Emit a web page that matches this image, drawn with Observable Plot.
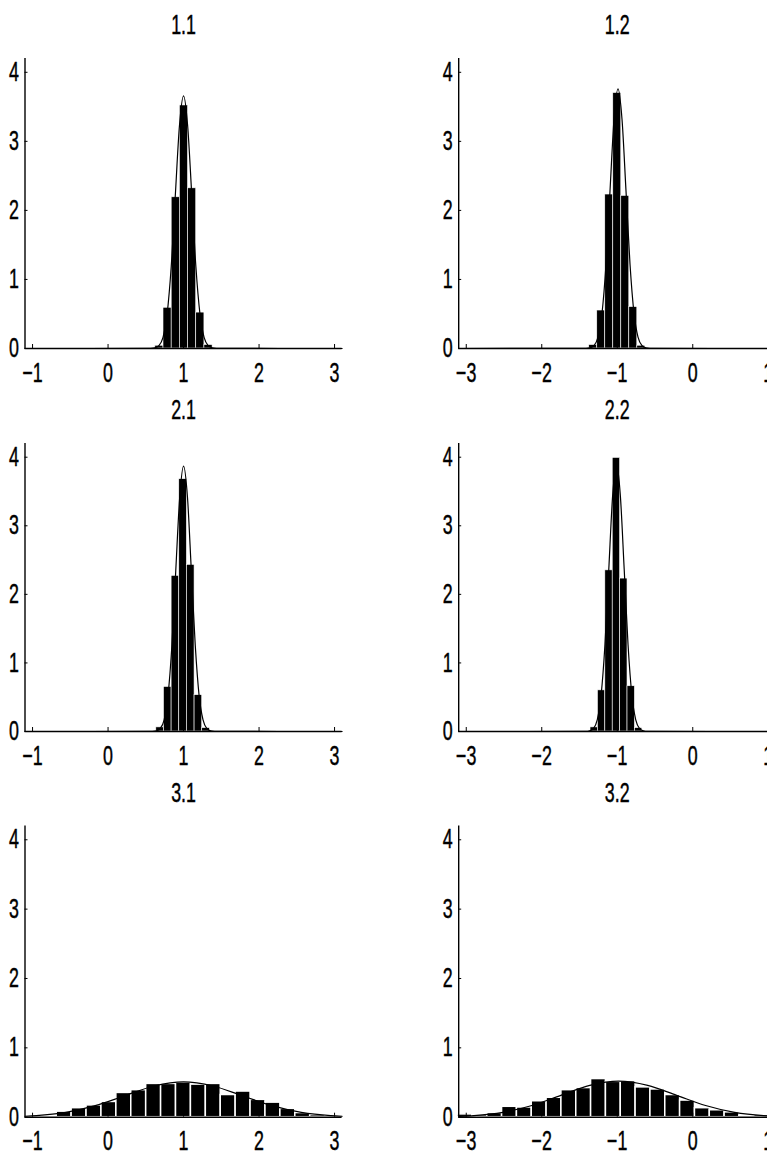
<!DOCTYPE html>
<html><head><meta charset="utf-8">
<script src="https://cdn.jsdelivr.net/npm/d3@7"></script>
<script src="https://cdn.jsdelivr.net/npm/@observablehq/plot@0.6"></script>
<style>
html,body{margin:0;padding:0;background:#fff;overflow:hidden;width:767px;height:1157px;}
#root{position:relative;width:767px;height:1157px;overflow:hidden;}
.panel{position:absolute;}
.panel text{stroke:black;stroke-width:0.45px;}
</style></head><body><div id="root"></div>
<script>
// ---- data ----
const panelTitles = ["1.1", "1.2", "2.1", "2.2", "3.1", "3.2"];
const xDomainLeft = [-1.1, 3.1];
const xDomainRight = [-3.1, 1.1];
const xTicksLeft = [-1, 0, 1, 2, 3];
const xTicksRight = [-3, -2, -1, 0, 1];
const yTicks = [0, 1, 2, 3, 4];
const yDomain = [0, 4.2];

// histogram bins: first edge and bin width per panel
const binStart = [0.626, -1.371, 0.639, -1.354, -1.075, -3.115];
const binWidth = [0.1084, 0.1061, 0.1014, 0.098, 0.1975, 0.1965];

const heights11 = [0.04, 0.59, 2.19, 3.52, 2.32, 0.52, 0.05];
const heights12 = [0.05, 0.55, 2.23, 3.70, 2.21, 0.60, 0.04];
const heights21 = [0.06, 0.65, 2.27, 3.68, 2.43, 0.53, 0.05];
const heights22 = [0.06, 0.60, 2.35, 3.99, 2.23, 0.66, 0.05];
const heights31 = [0.01, 0.02, 0.08, 0.13, 0.17, 0.22, 0.35, 0.39, 0.48, 0.48, 0.50,
                   0.47, 0.48, 0.32, 0.37, 0.25, 0.21, 0.12, 0.06, 0.03, 0.02];
const heights32 = [0.04, 0.03, 0.06, 0.15, 0.14, 0.23, 0.28, 0.39, 0.42, 0.55, 0.51,
                   0.52, 0.43, 0.40, 0.32, 0.24, 0.13, 0.10, 0.07, 0.02, 0.03];

// density curves (x, y)
const curve11 = [[-1.1,0],[0.564,0.001],[0.618,0.008],[0.673,0.041],[0.728,0.161],[0.782,0.495],[0.837,1.19],[0.891,2.22],[0.946,3.23],[1.0,3.66],[1.054,3.23],[1.109,2.22],[1.163,1.19],[1.218,0.495],[1.272,0.161],[1.327,0.041],[1.382,0.008],[1.436,0.001],[3.1,0]];
const curve12 = [[-3.1,0],[-1.414,0.001],[-1.361,0.008],[-1.308,0.042],[-1.255,0.165],[-1.202,0.509],[-1.149,1.22],[-1.096,2.28],[-1.043,3.32],[-0.99,3.76],[-0.937,3.32],[-0.884,2.28],[-0.831,1.22],[-0.778,0.509],[-0.725,0.165],[-0.672,0.042],[-0.619,0.008],[-0.566,0.001],[1.1,0]];
const curve21 = [[-1.1,0],[0.588,0.001],[0.640,0.0085],[0.691,0.043],[0.743,0.170],[0.794,0.524],[0.846,1.257],[0.897,2.347],[0.949,3.415],[1.0,3.87],[1.052,3.415],[1.103,2.347],[1.155,1.257],[1.206,0.524],[1.258,0.170],[1.309,0.043],[1.361,0.0085],[1.412,0.001],[3.1,0]];
const curve22 = [[-3.1,0],[-1.418,0.001],[-1.367,0.0086],[-1.316,0.043],[-1.265,0.171],[-1.214,0.528],[-1.163,1.266],[-1.112,2.365],[-1.061,3.44],[-1.01,3.9],[-0.959,3.44],[-0.908,2.365],[-0.857,1.266],[-0.806,0.528],[-0.755,0.171],[-0.704,0.043],[-0.653,0.0086],[-0.602,0.001],[1.1,0]];
const curve31 = [[-1.1,0.0136],[-0.95,0.0224],[-0.56,0.069],[-0.17,0.166],[0.22,0.309],[0.61,0.45],[1.0,0.51],[1.39,0.45],[1.78,0.309],[2.17,0.166],[2.56,0.069],[2.95,0.0224],[3.1,0.0136]];
const curve32 = [[-3.1,0.0114],[-2.8975,0.0228],[-2.514,0.070],[-2.13,0.169],[-1.747,0.315],[-1.3635,0.459],[-0.98,0.52],[-0.5965,0.459],[-0.213,0.315],[0.17,0.169],[0.554,0.070],[0.9375,0.0228],[1.1,0.0131]];

const allHeights = [heights11, heights12, heights21, heights22, heights31, heights32];
const allCurves = [curve11, curve12, curve21, curve22, curve31, curve32];

// ---- layout ----
const FONT = "'Liberation Sans', Arial, Helvetica, sans-serif";
const FS = 27;          // font size
const SQUEEZE = 0.66;   // horizontal condensing of the narrow font
const cols = [
  {left: 0,   width: 383, ml: 24.5, mr: 41.4, domain: xDomainLeft,  ticks: xTicksLeft},
  {left: 400, width: 400, ml: 58.2, mr: 24.7, domain: xDomainRight, ticks: xTicksRight}
];
const rows = [
  {top: 0,   mt: 58,   fh: 290,   mb: 35},
  {top: 383, mt: 60,   fh: 288,   mb: 35},
  {top: 766, mt: 59.4, fh: 291.3, mb: 40.3}
];
const fmt = d => (d < 0 ? "\u2212" : "") + Math.abs(d);

const root = document.getElementById("root");
for (let p = 0; p < 6; p++) {
  const r = rows[Math.floor(p / 2)], c = cols[p % 2];
  const wide = p >= 4;
  const bars = allHeights[p].map((h, i) => ({
    x1: binStart[p] + i * binWidth[p],
    x2: binStart[p] + (i + 1) * binWidth[p],
    h
  }));
  const fw = c.width - c.ml - c.mr;
  const H = r.mt + r.fh + r.mb;
  const chart = Plot.plot({
    width: c.width,
    height: H,
    marginLeft: c.ml, marginRight: c.mr, marginTop: r.mt, marginBottom: r.mb,
    x: {domain: c.domain, label: null},
    y: {domain: yDomain, label: null},
    style: {fontFamily: FONT, fontSize: FS + "px", color: "black", background: "white", overflow: "visible"},
    marks: [
      Plot.rectY(bars, {x1: "x1", x2: "x2", y: "h", fill: "black", stroke: "white", strokeWidth: wide ? 1.5 : 0.6}),
      Plot.line(allCurves[p], {x: d => d[0], y: d => d[1], stroke: "black", strokeWidth: 1.2, curve: "monotone-x"}),
      Plot.ruleX([c.domain[0]], {y1: yDomain[0], y2: yDomain[1], stroke: "black", strokeWidth: 1.4}),
      Plot.ruleY([0], {x1: c.domain[0], x2: c.domain[1], stroke: "black", strokeWidth: 1.6}),
      Plot.tickY(yTicks, {y: d => d, stroke: "black", strokeWidth: 1, insetRight: fw - 3}),
      Plot.tickX(c.ticks, {x: d => d, stroke: "black", strokeWidth: 1, insetTop: r.fh - 4}),
      Plot.axisY(yTicks, {tickSize: 0, tickPadding: 6, fontSize: FS, tickFormat: fmt, label: null}),
      Plot.axisX(c.ticks, {tickSize: 0, tickPadding: 14, fontSize: FS, tickFormat: fmt, label: null}),
      Plot.text([panelTitles[p]], {frameAnchor: "top", dy: -33, lineAnchor: "middle", fontSize: FS, fill: "black"})
    ]
  });
  chart.classList.add("panel");
  chart.style.left = c.left + "px";
  chart.style.top = r.top + "px";
  root.appendChild(chart);
  // condense glyphs horizontally to mimic the narrow typeface
  chart.querySelectorAll("text").forEach(t => {
    const L = t.getComputedTextLength();
    if (L > 0) {
      t.setAttribute("textLength", (L * SQUEEZE).toFixed(2));
      t.setAttribute("lengthAdjust", "spacingAndGlyphs");
    }
  });
}
</script></body></html>
